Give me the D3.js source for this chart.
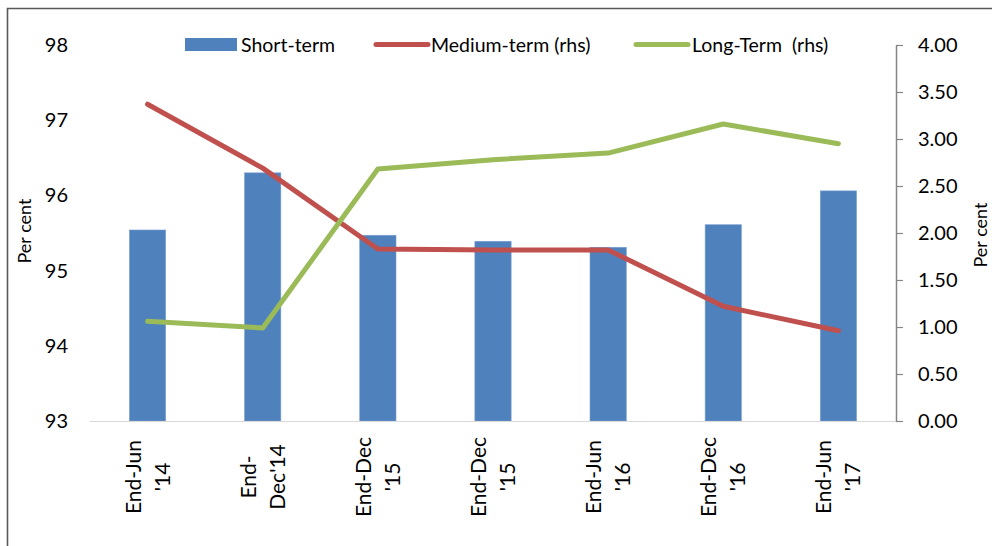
<!DOCTYPE html>
<html>
<head>
<meta charset="utf-8">
<script src="https://cdn.jsdelivr.net/npm/d3@7"></script>
<style>
  html, body { margin: 0; padding: 0; background: #fff; }
  svg { display: block; }
  text { font-family: Lato, "Open Sans", sans-serif; fill: #000; }
</style>
</head>
<body>
<svg id="chart" width="992" height="546"></svg>
<script>
const categories = [["End-Jun", "'14"], ["End-", "Dec'14"], ["End-Dec", "'15"], ["End-Dec", "'15"], ["End-Jun", "'16"], ["End-Dec", "'16"], ["End-Jun", "'17"]];
const shortTerm = [95.54, 96.30, 95.47, 95.39, 95.31, 95.61, 96.06];
const mediumTerm = [3.37, 2.69, 1.83, 1.82, 1.82, 1.22, 0.96];
const longTerm = [1.06, 0.99, 2.68, 2.78, 2.85, 3.16, 2.95];
const leftTicks = [93, 94, 95, 96, 97, 98];
const rightTicks = [0, 0.5, 1, 1.5, 2, 2.5, 3, 3.5, 4];
const legendLabels = ["Short-term", "Medium-term (rhs)", "Long-Term  (rhs)"];

const colors = { bar: "#4f81bd", medium: "#c0504d", long: "#9bbb59" };
const svg = d3.select("#chart");

const plot = { left: 90, right: 896, top: 45, bottom: 421 };
const idx = categories.map((d, i) => i);
const x = d3.scaleBand().domain(idx).range([plot.left, plot.right]).padding(0);
const xc = i => x(i) + x.bandwidth() / 2;
const yL = d3.scaleLinear().domain([93, 98]).range([plot.bottom, plot.top]);
const yR = d3.scaleLinear().domain([0, 4]).range([plot.bottom, plot.top]);

// Outer frame (partial)
svg.append("path").attr("d", "M7.5,546 L7.5,8.5 L992,8.5")
  .attr("fill", "none").attr("stroke", "#595959").attr("stroke-width", 1.6);

// Bars
const barW = x.bandwidth() * 0.315;
svg.append("g").selectAll("rect").data(shortTerm).join("rect")
  .attr("x", (d, i) => xc(i) - barW / 2)
  .attr("width", barW)
  .attr("y", d => yL(d))
  .attr("height", d => yL(93) - yL(d))
  .attr("fill", colors.bar)
  .attr("stroke", "#7a9fd0").attr("stroke-width", 0.6);

// Baseline
svg.append("line").attr("x1", plot.left).attr("x2", plot.right)
  .attr("y1", plot.bottom + 0.5).attr("y2", plot.bottom + 0.5)
  .attr("stroke", "#d9d9d9").attr("stroke-width", 1.2);

// Left axis (labels only)
const gL = svg.append("g").attr("transform", `translate(${plot.left},0)`)
  .call(d3.axisLeft(yL).tickValues(leftTicks).tickSize(0).tickPadding(22).tickFormat(d3.format("d")));
gL.select(".domain").remove();
gL.selectAll("text").style("font-size", "20px").style("font-family", "Lato, sans-serif").attr("fill", "#000");

// Right axis
const gR = svg.append("g").attr("transform", `translate(${plot.right},0)`)
  .call(d3.axisRight(yR).tickValues(rightTicks).tickSize(7).tickSizeOuter(0).tickPadding(22).tickFormat(d3.format(".2f")));
gR.select(".domain").attr("stroke", "#868686").attr("stroke-width", 1.5);
gR.selectAll(".tick line").attr("stroke", "#868686").attr("stroke-width", 1.2);
gR.selectAll("text").attr("x", 22).style("font-size", "20px").style("font-family", "Lato, sans-serif").attr("fill", "#000");

// Lines
const lineR = d3.line().x((d, i) => xc(i)).y(d => yR(d));
svg.append("path").datum(mediumTerm).attr("d", lineR)
  .attr("fill", "none").attr("stroke", colors.medium).attr("stroke-width", 5)
  .attr("stroke-linejoin", "round").attr("stroke-linecap", "round");
svg.append("path").datum(longTerm).attr("d", lineR)
  .attr("fill", "none").attr("stroke", colors.long).attr("stroke-width", 5)
  .attr("stroke-linejoin", "round").attr("stroke-linecap", "round");

// X labels
const xl = svg.append("g");
categories.forEach((lines, i) => {
  const t = xl.append("text")
    .attr("transform", `translate(${xc(i)},477) rotate(-90)`)
    .attr("text-anchor", "middle")
    .style("font-size", "21px");
  lines.forEach((s, j) => {
    t.append("tspan").attr("x", 0).attr("y", (j - 0.5) * 29).attr("dy", "0.36em").text(s);
  });
});

// Axis titles
svg.append("text").attr("transform", "translate(25,231) rotate(-90)")
  .attr("text-anchor", "middle").attr("dy", "0.35em").style("font-size", "18px").text("Per cent");
svg.append("text").attr("transform", "translate(981,235) rotate(-90)")
  .attr("text-anchor", "middle").attr("dy", "0.35em").style("font-size", "18px").text("Per cent");

// Legend
const lg = svg.append("g");
lg.append("rect").attr("x", 185).attr("y", 38).attr("width", 52).attr("height", 13).attr("fill", colors.bar);
lg.append("text").attr("x", 241).attr("y", 45).attr("dy", "0.35em").style("font-size", "19.5px").text(legendLabels[0]);
lg.append("line").attr("x1", 376).attr("x2", 428).attr("y1", 44.5).attr("y2", 44.5)
  .attr("stroke", colors.medium).attr("stroke-width", 5).attr("stroke-linecap", "round");
lg.append("text").attr("x", 431).attr("y", 45).attr("dy", "0.35em").style("font-size", "19.5px").text(legendLabels[1]);
lg.append("line").attr("x1", 636).attr("x2", 688).attr("y1", 44.5).attr("y2", 44.5)
  .attr("stroke", colors.long).attr("stroke-width", 5).attr("stroke-linecap", "round");
lg.append("text").attr("x", 692).attr("y", 45).attr("dy", "0.35em").style("font-size", "19.5px")
  .style("white-space", "pre").attr("xml:space", "preserve").text(legendLabels[2]);
</script>
</body>
</html>
